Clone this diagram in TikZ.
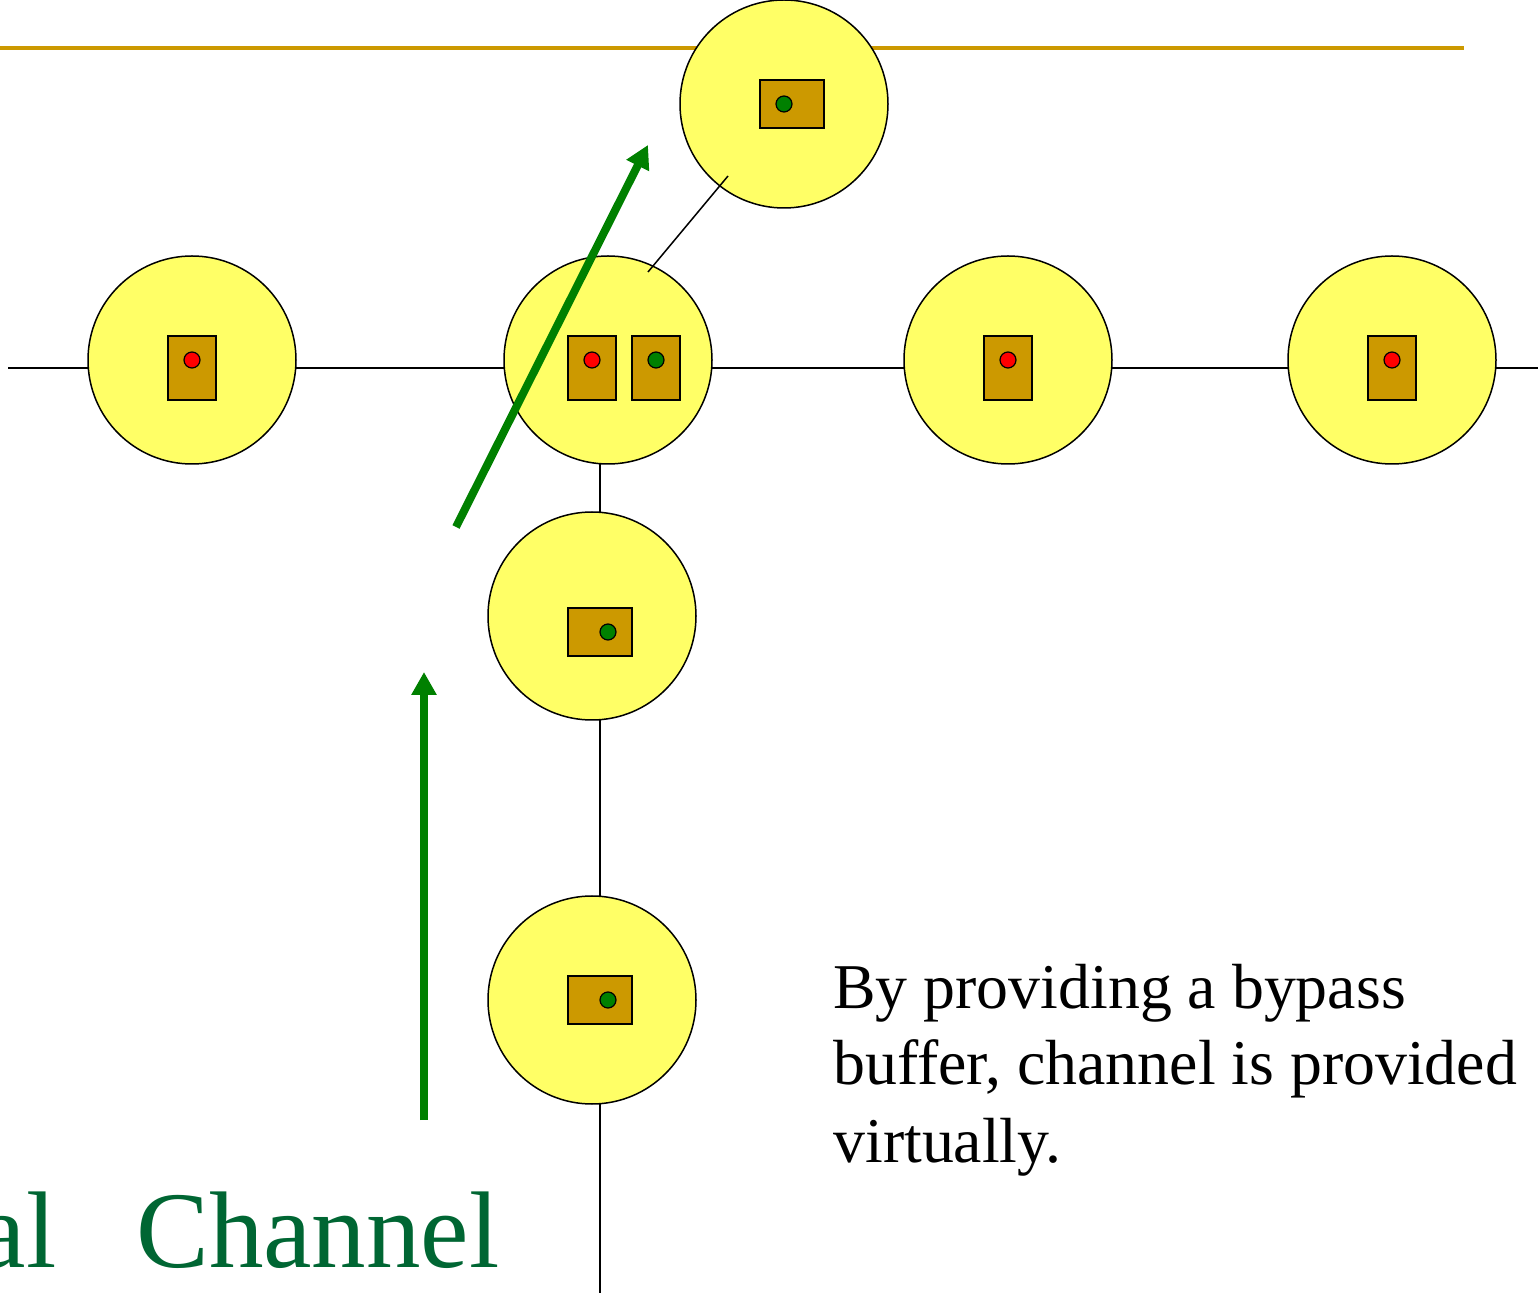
\documentclass[tikz,border=0pt]{standalone}
\usepackage{fontspec}
\setmainfont{Liberation Serif}
\usetikzlibrary{arrows.meta,backgrounds}

\definecolor{nodefill}{HTML}{FFFF66}
\definecolor{buffill}{HTML}{CC9900}
\definecolor{railgold}{HTML}{CC9900}
\definecolor{flowgreen}{HTML}{008000}
\definecolor{titlegreen}{HTML}{006633}
\definecolor{flitred}{HTML}{FF0000}

\tikzset{
  router/.style={circle, draw=black, line width=0.75pt, fill=nodefill,
                 minimum size=104pt, inner sep=0pt},
  bufv/.style={rectangle, draw=black, line width=0.75pt, fill=buffill,
               minimum width=24pt, minimum height=32pt, inner sep=0pt},
  bufh/.style={rectangle, draw=black, line width=0.75pt, fill=buffill,
               minimum width=32pt, minimum height=24pt, inner sep=0pt},
  flit/.style={circle, draw=black, line width=0.6pt, minimum size=8pt, inner sep=0pt},
  redflit/.style={flit, fill=flitred},
  greenflit/.style={flit, fill=flowgreen},
  link/.style={draw=black, line width=0.75pt},
  flow/.style={draw=flowgreen, line width=4pt,
               -{Triangle[length=11.5pt,width=12pt]}},
  bodytext/.style={anchor=base west, inner sep=0pt,
                   font=\fontsize{31.9}{38}\selectfont},
  titletext/.style={inner sep=0pt, text=titlegreen,
                    font=\fontsize{54.5}{60}\selectfont}
}

\begin{document}
\begin{tikzpicture}[x=0.5pt, y=-0.5pt]
  \useasboundingbox (0,0) rectangle (1538,1293);

  % routers of the mesh
  \node[router] (rTop) at (784,104) {};
  \node[router] (rA) at (192,360) {};
  \node[router] (rB) at (608,360) {};
  \node[router] (rC) at (1008,360) {};
  \node[router] (rD) at (1392,360) {};
  \node[router] (rE) at (592,616) {};
  \node[router] (rF) at (592,1000) {};

  % buffers and flits
  \node[bufh] (bTop) at (792,104) {};
  \node[greenflit] (fTop) at (784,104) {};
  \node[bufv] (bA) at (192,368) {};
  \node[redflit] (fA) at (192,360) {};
  \node[bufv] (bB1) at (592,368) {};
  \node[redflit] (fB1) at (592,360) {};
  \node[bufv] (bB2) at (656,368) {};
  \node[greenflit] (fB2) at (656,360) {};
  \node[bufv] (bC) at (1008,368) {};
  \node[redflit] (fC) at (1008,360) {};
  \node[bufv] (bD) at (1392,368) {};
  \node[redflit] (fD) at (1392,360) {};
  \node[bufh] (bE) at (600,632) {};
  \node[greenflit] (fE) at (608,632) {};
  \node[bufh] (bF) at (600,1000) {};
  \node[greenflit] (fF) at (608,1000) {};

  % link ends
  \coordinate (hW) at (8,368);
  \coordinate (hE) at (1538,368);
  \coordinate (vTop) at (600,464);
  \coordinate (vBot) at (600,1293);
  \coordinate (railW) at (0,48);
  \coordinate (railE) at (1464,48);
  \coordinate (byA) at (648,272);
  \coordinate (byB) at (728,176);

  \begin{scope}[on background layer]
    \fill[white] (0,0) rectangle (1538,1293);
    \draw[draw=railgold, line width=2pt] (railW) -- (railE);
    \draw[link] (hW) -- (hE);
    \draw[link] (vTop) -- (vBot);
  \end{scope}

  % bypass link to the upper router
  \draw[link] (byA) -- (byB);

  % packet flow
  \coordinate (flowAs) at (456,527);
  \coordinate (flowAe) at (648,145);
  \coordinate (flowBs) at (424,1120);
  \coordinate (flowBe) at (424,672);
  \draw[flow] (flowAs) -- (flowAe);
  \draw[flow] (flowBs) -- (flowBe);

  % text
  \node[bodytext] (l1) at (833,1009) {By providing a bypass};
  \node[bodytext] (l2) at (833,1085) {buffer, channel is provided};
  \node[bodytext] (l3) at (833,1162) {virtually.};
  \node[titletext, anchor=base east] (tA) at (57,1267) {al};
  \node[titletext, anchor=base west] (tB) at (136,1267) {Channel};
\end{tikzpicture}
\end{document}
